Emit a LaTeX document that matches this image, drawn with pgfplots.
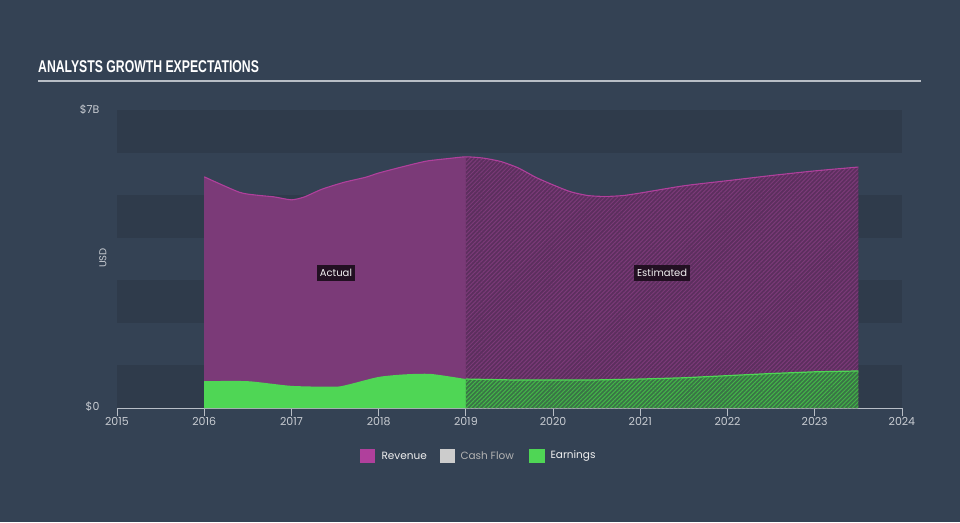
\documentclass[border=0pt]{standalone}
\usepackage{pgfplots}
\pgfplotsset{compat=1.18}
\usepackage{fontspec}
\setmainfont{Poppins}
\newfontfamily\titlefont[FakeStretch=0.72]{Liberation Sans}
\usetikzlibrary{patterns.meta}
\definecolor{bg}{HTML}{344254}
\definecolor{band}{HTML}{2F3B4B}
\definecolor{revfill}{HTML}{7B3A78}
\definecolor{revline}{HTML}{B0409C}
\definecolor{revest}{HTML}{5C2F5E}
\definecolor{earnfill}{HTML}{4FD655}
\definecolor{earnest}{HTML}{3A7446}
\definecolor{txt}{HTML}{C8CCD2}
\definecolor{axisc}{HTML}{B8BEC6}
\begin{document}
\begin{tikzpicture}[x=1pt,y=1pt]
\fill[bg] (0,0) rectangle (960,522);
% title
\node[anchor=west, text=white, font=\titlefont\bfseries\fontsize{17}{17}\selectfont, inner sep=0pt] at (38,455) {ANALYSTS GROWTH EXPECTATIONS};
\draw[color=axisc, line width=1.6pt] (38,441) -- (921,441);
% bands
\foreach \b in {0,2,4,6}{
  \fill[band] (117,{114+\b*42.571}) rectangle (902,{114+(\b+1)*42.571});
}
\begin{axis}[
  at={(117pt,114pt)}, anchor=south west,
  scale only axis, width=785pt, height=298pt,
  xmin=2015, xmax=2024, ymin=0, ymax=7,
  axis x line*=bottom, axis y line=none,
  x axis line style={color=axisc, line width=0.8pt, -},
  xtick={2015,...,2024},
  xticklabel style={text=txt, font=\fontsize{11}{12}\selectfont, yshift=2pt},
  /pgf/number format/1000 sep={},
  /pgf/number format/assume math mode=true,
  tick style={color=axisc, line width=0.8pt},
  major tick length=8pt,
  tick align=outside,
  clip=false,
]
% Revenue actual
\addplot[fill=revfill, draw=none, smooth, tension=0.4] coordinates {
(2016,5.43) (2016.4,5.07) (2016.6,5.00) (2016.8,4.96) (2017,4.89) (2017.15,4.96) (2017.35,5.14) (2017.6,5.30) (2017.85,5.42) (2018,5.52) (2018.3,5.68) (2018.55,5.80) (2018.8,5.86) (2019,5.90)
} \closedcycle;
% Revenue estimated
\addplot[fill=revest, draw=none, smooth, tension=0.4, postaction={pattern={Lines[angle=45,distance=3pt,line width=1pt]}, pattern color=revfill}] coordinates {
(2019,5.90) (2019.2,5.87) (2019.4,5.79) (2019.6,5.64) (2019.8,5.42) (2020,5.24) (2020.2,5.08) (2020.4,4.99) (2020.6,4.97) (2020.8,4.99) (2021,5.05) (2021.5,5.22) (2022,5.34) (2022.5,5.46) (2023,5.57) (2023.5,5.66)
} \closedcycle;
% Revenue line
\addplot[color=revline, line width=1.1pt, smooth, tension=0.4] coordinates {
(2016,5.43) (2016.4,5.07) (2016.6,5.00) (2016.8,4.96) (2017,4.89) (2017.15,4.96) (2017.35,5.14) (2017.6,5.30) (2017.85,5.42) (2018,5.52) (2018.3,5.68) (2018.55,5.80) (2018.8,5.86) (2019,5.90) (2019.2,5.87) (2019.4,5.79) (2019.6,5.64) (2019.8,5.42) (2020,5.24) (2020.2,5.08) (2020.4,4.99) (2020.6,4.97) (2020.8,4.99) (2021,5.05) (2021.5,5.22) (2022,5.34) (2022.5,5.46) (2023,5.57) (2023.5,5.66)
};
% Earnings actual
\addplot[fill=earnfill, draw=none, smooth, tension=0.4] coordinates {
(2016,0.63) (2016.5,0.63) (2017,0.52) (2017.5,0.50) (2017.65,0.55) (2018,0.73) (2018.3,0.79) (2018.6,0.80) (2019,0.68)
} \closedcycle;
% Earnings estimated
\addplot[fill=earnest, draw=none, postaction={pattern={Lines[angle=45,distance=3pt,line width=1pt]}, pattern color=earnfill!85!black}] coordinates {
(2019,0.68) (2019.5,0.66) (2020,0.66) (2020.5,0.66) (2021,0.68) (2021.5,0.71) (2022,0.76) (2022.5,0.81) (2023,0.85) (2023.5,0.87)
} \closedcycle;
\addplot[color=earnfill, line width=1.2pt] coordinates {
(2019,0.68) (2019.5,0.66) (2020,0.66) (2020.5,0.66) (2021,0.68) (2021.5,0.71) (2022,0.76) (2022.5,0.81) (2023,0.85) (2023.5,0.87)
};
\node[fill=black!72!revfill, text=white!90!gray, font=\fontsize{10}{11}\selectfont, inner xsep=3pt, inner ysep=4.5pt] at (axis cs:2017.51,3.17) {Actual};
\node[fill=black!72!revfill, text=white!90!gray, font=\fontsize{10}{11}\selectfont, inner xsep=3pt, inner ysep=4.5pt] at (axis cs:2021.25,3.17) {Estimated};
\end{axis}
% y labels
\node[anchor=east, text=txt, font=\fontsize{11}{12}\selectfont] at (103,412) {\$7B};
\node[anchor=east, text=txt, font=\fontsize{11}{12}\selectfont] at (103,115) {\$0};
\node[rotate=90, text=txt, font=\fontsize{10}{11}\selectfont] at (103,264) {USD};
% legend
\fill[revline] (360,59) rectangle (375,73);
\node[anchor=west, text=white!88!gray, font=\fontsize{10.5}{11}\selectfont] at (378,66) {Revenue};
\fill[gray!40] (440,59) rectangle (455,73);
\node[anchor=west, text=gray!60, font=\fontsize{10.5}{11}\selectfont] at (457,66) {Cash Flow};
\fill[earnfill] (529,59) rectangle (545,73);
\node[anchor=west, text=white!88!gray, font=\fontsize{10.5}{11}\selectfont] at (547,66) {Earnings};
\end{tikzpicture}
\end{document}
